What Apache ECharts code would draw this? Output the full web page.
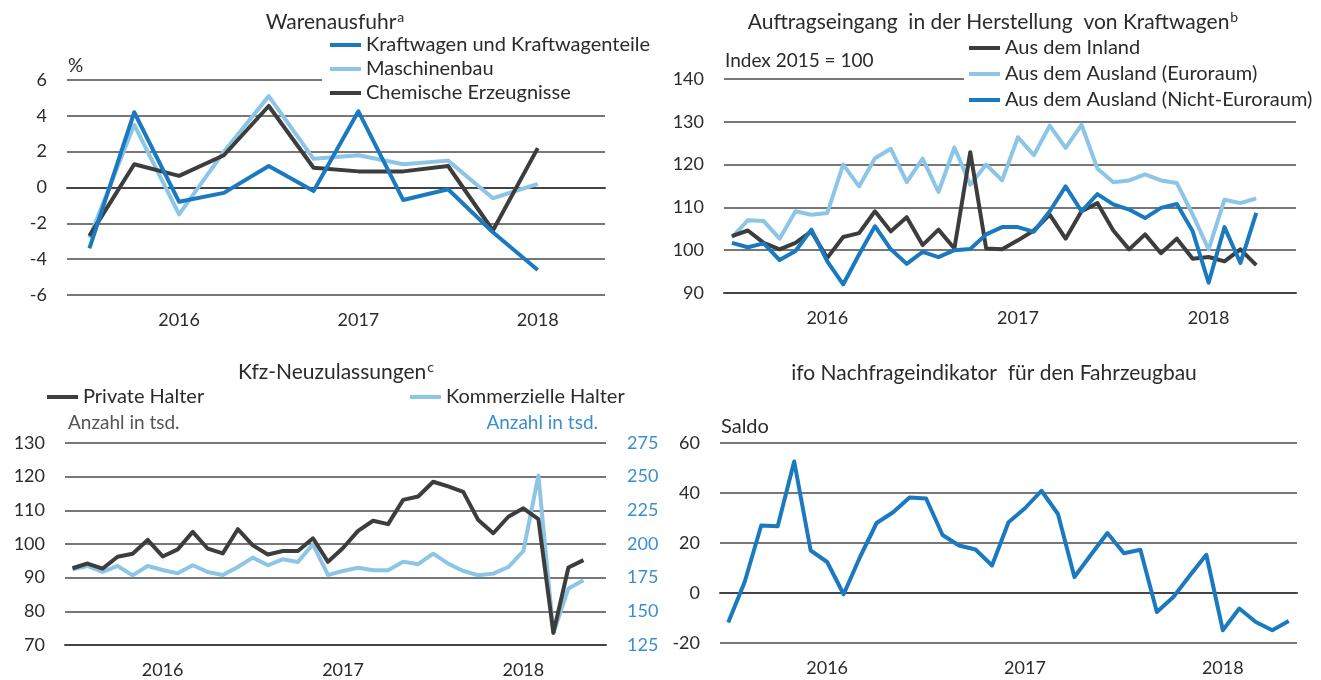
<!DOCTYPE html>
<html>
<head>
<meta charset="utf-8">
<script src="https://cdn.jsdelivr.net/npm/echarts@6/dist/echarts.min.js"></script>
<style>
  html, body { margin: 0; padding: 0; background: #fff; }
  #chart { width: 1321px; height: 680px; }
</style>
</head>
<body>
<div id="chart"></div>
<script>
const years = ["2016", "2017", "2018"];
const quarters = [];
const months = [];
years.forEach(y => {
  for (let q = 1; q <= 4; q++) quarters.push(y + "-Q" + q);
  for (let m = 1; m <= 12; m++) months.push(y + "-" + (m < 10 ? "0" + m : m));
});

// Warenausfuhr, %
const kraftwagen = [-3.4, 4.2, -0.8, -0.3, 1.2, -0.2, 4.25, -0.7, -0.1, -2.5, -4.6];
const maschinenbau = [-2.8, 3.5, -1.5, 2.0, 5.1, 1.6, 1.8, 1.3, 1.5, -0.6, 0.2];
const chemie = [-2.7, 1.3, 0.65, 1.8, 4.55, 1.1, 0.9, 0.9, 1.2, -2.4, 2.2];

// Auftragseingang, Index 2015 = 100
const inland = [103.3, 104.6, 101.7, 100.2, 101.7, 104.4, 98.2, 103.1, 104.0, 109.1, 104.4, 107.7,
  101.2, 104.8, 100.4, 122.9, 100.4, 100.2, 102.3, 104.6, 108.3, 102.7, 109.1, 111.0,
  104.6, 100.2, 103.7, 99.3, 102.7, 98.0, 98.4, 97.4, 100.2, 96.5];
const euroraum = [103.0, 107.0, 106.8, 102.7, 109.1, 108.3, 108.7, 120.0, 114.9, 121.5, 123.7, 115.9,
  121.4, 113.6, 124.0, 115.3, 120.0, 116.3, 126.4, 122.2, 129.1, 123.9, 129.3, 119.1,
  115.9, 116.3, 117.7, 116.3, 115.7, 108.3, 100.2, 111.8, 111.0, 112.1];
const nichtEuroraum = [101.7, 100.7, 101.6, 97.7, 99.8, 104.8, 97.4, 92.0, 99.0, 105.6, 100.2, 96.8,
  99.6, 98.4, 100.0, 100.3, 103.7, 105.4, 105.4, 104.3, 109.1, 114.9, 109.1, 113.1,
  110.7, 109.5, 107.5, 109.9, 110.8, 104.4, 92.4, 105.4, 97.0, 108.7];

// Kfz-Neuzulassungen, Anzahl in tsd.
const privatHalter = [92.8, 94.2, 92.7, 96.2, 97.1, 101.2, 96.3, 98.4, 103.6, 98.6, 97.2, 104.4,
  99.6, 96.9, 97.9, 97.9, 101.7, 94.7, 98.8, 103.9, 106.9, 105.9, 113.1, 114.1,
  118.5, 117.1, 115.5, 107.1, 103.2, 108.1, 110.6, 107.4, 73.6, 93.0, 95.2];
const kommerzHalter = [181.2, 183.7, 179.2, 183.7, 176.7, 183.7, 180.7, 178.2, 184.2, 179.2, 177.0, 182.9,
  189.9, 184.2, 188.7, 186.7, 199.8, 177.0, 180.0, 182.4, 180.5, 180.5, 186.9, 185.0,
  192.8, 185.4, 180.0, 176.8, 178.0, 182.9, 194.8, 250.8, 134.1, 167.0, 173.0];

// ifo Nachfrageindikator, Saldo
const ifoSaldo = [-11.8, 4.5, 27.0, 26.7, 52.6, 17.0, 12.4, -0.5, 14.5, 28.0, 32.3, 38.2,
  37.8, 23.2, 19.0, 17.4, 11.0, 28.3, 33.9, 40.9, 31.6, 6.4, 15.3, 24.0,
  15.9, 17.3, -7.6, -1.6, 7.0, 15.3, -14.9, -6.2, -11.6, -14.9, -11.2];

const dark = "#3d3d3d";
const blue = "#1b7abf";
const light = "#8cc5e6";
const labelBlue = "#3b8fcf";
const textColor = "#2b2b2b";
const font = "Lato, 'Open Sans', sans-serif";

function xAxis(gridIndex, data, per) {
  return {
    type: "category",
    gridIndex,
    data,
    boundaryGap: true,
    axisLine: { lineStyle: { color: "#444", width: 2 } },
    axisTick: {
      length: 7,
      interval: (i) => i % per === 0,
      lineStyle: { color: "#444", width: 2 },
    },
    axisLabel: {
      interval: (i) => i % per === per / 2,
      formatter: (v) => v.slice(0, 4),
      margin: 16,
      fontSize: 18,
      fontFamily: font,
      color: textColor,
    },
    splitLine: { show: false },
  };
}

function yAxis(gridIndex, min, max, interval, extra) {
  return Object.assign({
    type: "value",
    gridIndex,
    min,
    max,
    interval,
    axisLine: { show: false },
    axisTick: { show: false },
    axisLabel: { margin: 20, fontSize: 18, fontFamily: font, color: textColor },
    splitLine: { lineStyle: { color: "#4a4a4a", width: 1.5 } },
  }, extra || {});
}

function line(name, data, color, xi, yi) {
  return {
    name,
    type: "line",
    data,
    xAxisIndex: xi,
    yAxisIndex: yi,
    symbol: "none",
    animation: false,
    lineStyle: { color, width: 4, join: "round" },
    itemStyle: { color },
  };
}

function legend(names, left, top, rowHeight, padding, bg) {
  return {
    data: names,
    orient: "vertical",
    left,
    top,
    icon: "rect",
    itemWidth: 31,
    itemHeight: 4,
    itemGap: 0,
    padding,
    backgroundColor: bg ? "#fff" : "transparent",
    textStyle: { fontSize: 20, lineHeight: rowHeight, fontFamily: font, color: textColor },
  };
}

function label(text, x, y, color, align, size) {
  return {
    type: "text",
    x,
    y,
    z: 10,
    style: {
      text,
      fill: color || textColor,
      font: (size || 19) + "px " + font,
      align: align || "left",
      verticalAlign: "middle",
    },
  };
}

function title(text, sup, x, y) {
  return {
    type: "text",
    x,
    y,
    z: 10,
    style: {
      text: sup ? text + "{s|" + sup + "}" : text,
      fill: textColor,
      font: "21px " + font,
      align: "center",
      verticalAlign: "middle",
      lineHeight: 24,
      rich: { s: { fontSize: 14, fontFamily: font, fill: textColor, verticalAlign: "top", lineHeight: 24, padding: [0, 0, 6, 1] } },
    },
  };
}

const chart = echarts.init(document.getElementById("chart"));
chart.setOption({
  animation: false,
  textStyle: { fontFamily: font },
  grid: [
    { left: 67, top: 80, width: 538, height: 215 },
    { left: 724, top: 79, width: 572, height: 214 },
    { left: 65, top: 443, width: 541, height: 202 },
    { left: 720, top: 443, width: 577, height: 200 },
  ],
  xAxis: [
    xAxis(0, quarters, 4),
    xAxis(1, months, 12),
    xAxis(2, months, 12),
    xAxis(3, months.slice(0, 35), 12),
  ],
  yAxis: [
    yAxis(0, -6, 6, 2),
    yAxis(1, 90, 140, 10),
    yAxis(2, 70, 130, 10),
    yAxis(2, 125, 275, 25, {
      position: "right",
      splitLine: { show: false },
      axisLabel: { margin: 21, fontSize: 18, fontFamily: font, color: labelBlue },
    }),
    yAxis(3, -20, 60, 20),
  ],
  legend: [
    legend(["Kraftwagen und Kraftwagenteile", "Maschinenbau", "Chemische Erzeugnisse"], 322, 30, 24, [3, 4, 0, 8], true),
    legend(["Aus dem Inland", "Aus dem Ausland (Euroraum)", "Aus dem Ausland (Nicht-Euroraum)"], 964, 32, 26, [3, 2, 0, 5], true),
    legend(["Private Halter"], 47, 385, 24, 0, false),
    legend(["Kommerzielle Halter"], 410, 385, 24, 0, false),
  ],
  graphic: [
    title("Warenausfuhr", "a", 335, 22),
    title("Auftragseingang  in der Herstellung  von Kraftwagen", "b", 993, 22),
    title("Kfz-Neuzulassungen", "c", 336, 372),
    title("ifo Nachfrageindikator  für den Fahrzeugbau", null, 994, 373),
    label("%", 68, 66),
    label("Index 2015 = 100", 725, 61),
    label("Anzahl in tsd.", 68, 423, "#555"),
    label("Anzahl in tsd.", 598, 423, labelBlue, "right"),
    label("Saldo", 721, 427, null, null, 20),
  ],
  series: [
    line("Maschinenbau", maschinenbau, light, 0, 0),
    line("Chemische Erzeugnisse", chemie, dark, 0, 0),
    line("Kraftwagen und Kraftwagenteile", kraftwagen, blue, 0, 0),
    line("Aus dem Ausland (Euroraum)", euroraum, light, 1, 1),
    line("Aus dem Inland", inland, dark, 1, 1),
    line("Aus dem Ausland (Nicht-Euroraum)", nichtEuroraum, blue, 1, 1),
    line("Kommerzielle Halter", kommerzHalter, light, 2, 3),
    line("Private Halter", privatHalter, dark, 2, 2),
    line("ifo Nachfrageindikator", ifoSaldo, blue, 3, 4),
  ],
});
</script>
</body>
</html>
